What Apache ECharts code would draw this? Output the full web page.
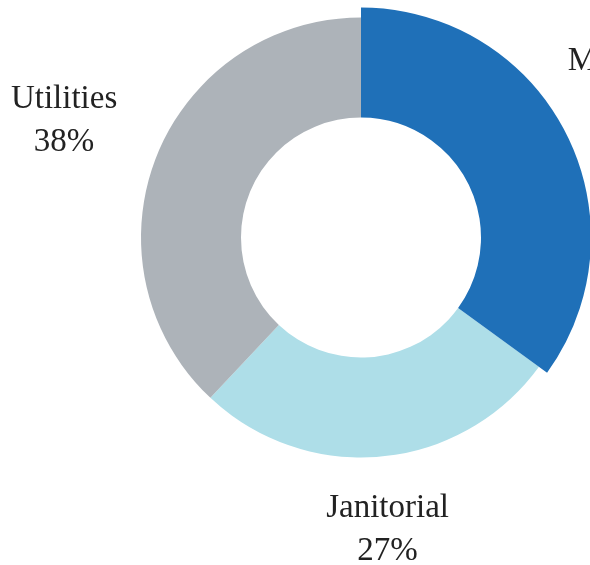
<!DOCTYPE html>
<html>
<head>
<meta charset="utf-8">
<script src="https://cdn.jsdelivr.net/npm/echarts@6/dist/echarts.min.js"></script>
<style>
  html, body { margin: 0; padding: 0; background: #ffffff; }
  #chart { width: 590px; height: 565px; }
</style>
</head>
<body>
<div id="chart"></div>
<script>
const categories = ['Maintenance', 'Janitorial', 'Utilities'];
const values = [35, 27, 38];
const colors = ['#1f70b8', '#aedee8', '#adb3b9'];

const CX = 361, CY = 237.5;
const R_IN = 120, R_OUT = 220, R_OUT_LIFT = 230;
const total = values.reduce((a, b) => a + b, 0);

function midAngle(i) {
  let acc = 0;
  for (let k = 0; k < i; k++) acc += values[k];
  return ((acc + values[i] / 2) / total) * 2 * Math.PI;
}
// extra radial gap beyond the label box edge, per slice
const gaps = [262, 250, 260];
const nudge = [[-26, 7], [-1, 0], [-2, 0]];

function layout(params) {
  const i = params.dataIndex;
  const a = midAngle(i);
  const dx = Math.sin(a), dy = -Math.cos(a);
  const hw = params.labelRect.width / 2, hh = params.labelRect.height / 2;
  const d = gaps[i] + Math.min(Math.abs(dx) > 1e-6 ? hw / Math.abs(dx) : 1e9,
                               Math.abs(dy) > 1e-6 ? hh / Math.abs(dy) : 1e9);
  return {
    x: CX + d * dx + nudge[i][0],
    y: CY + d * dy + nudge[i][1],
    align: 'center',
    verticalAlign: 'middle'
  };
}

const labelStyle = {
  show: true,
  position: 'outside',
  formatter: '{b}\n{d}%',
  fontFamily: '"Liberation Serif", "DejaVu Serif", serif',
  fontSize: 33,
  lineHeight: 43,
  color: '#222222',
  align: 'center'
};

const baseData = categories.map((c, i) => ({
  name: c,
  value: values[i],
  itemStyle: { color: i === 0 ? 'rgba(0,0,0,0)' : colors[i] },
  label: { show: i !== 0 }
}));
const liftData = categories.map((c, i) => ({
  name: c,
  value: values[i],
  itemStyle: { color: i === 0 ? colors[i] : 'rgba(0,0,0,0)' },
  label: { show: i === 0 }
}));

const chart = echarts.init(document.getElementById('chart'), null, { renderer: 'canvas' });
chart.setOption({
  backgroundColor: '#ffffff',
  animation: false,
  series: [
    {
      type: 'pie',
      silent: true,
      center: [CX, CY],
      radius: [R_IN, R_OUT],
      startAngle: 90,
      clockwise: true,
      avoidLabelOverlap: false,
      label: labelStyle,
      labelLine: { show: false },
      labelLayout: layout,
      itemStyle: { borderWidth: 0 },
      data: baseData
    },
    {
      type: 'pie',
      silent: true,
      center: [CX, CY],
      radius: [R_IN, R_OUT_LIFT],
      startAngle: 90,
      clockwise: true,
      avoidLabelOverlap: false,
      label: labelStyle,
      labelLine: { show: false },
      labelLayout: layout,
      itemStyle: { borderWidth: 0 },
      data: liftData
    }
  ]
});
</script>
</body>
</html>
